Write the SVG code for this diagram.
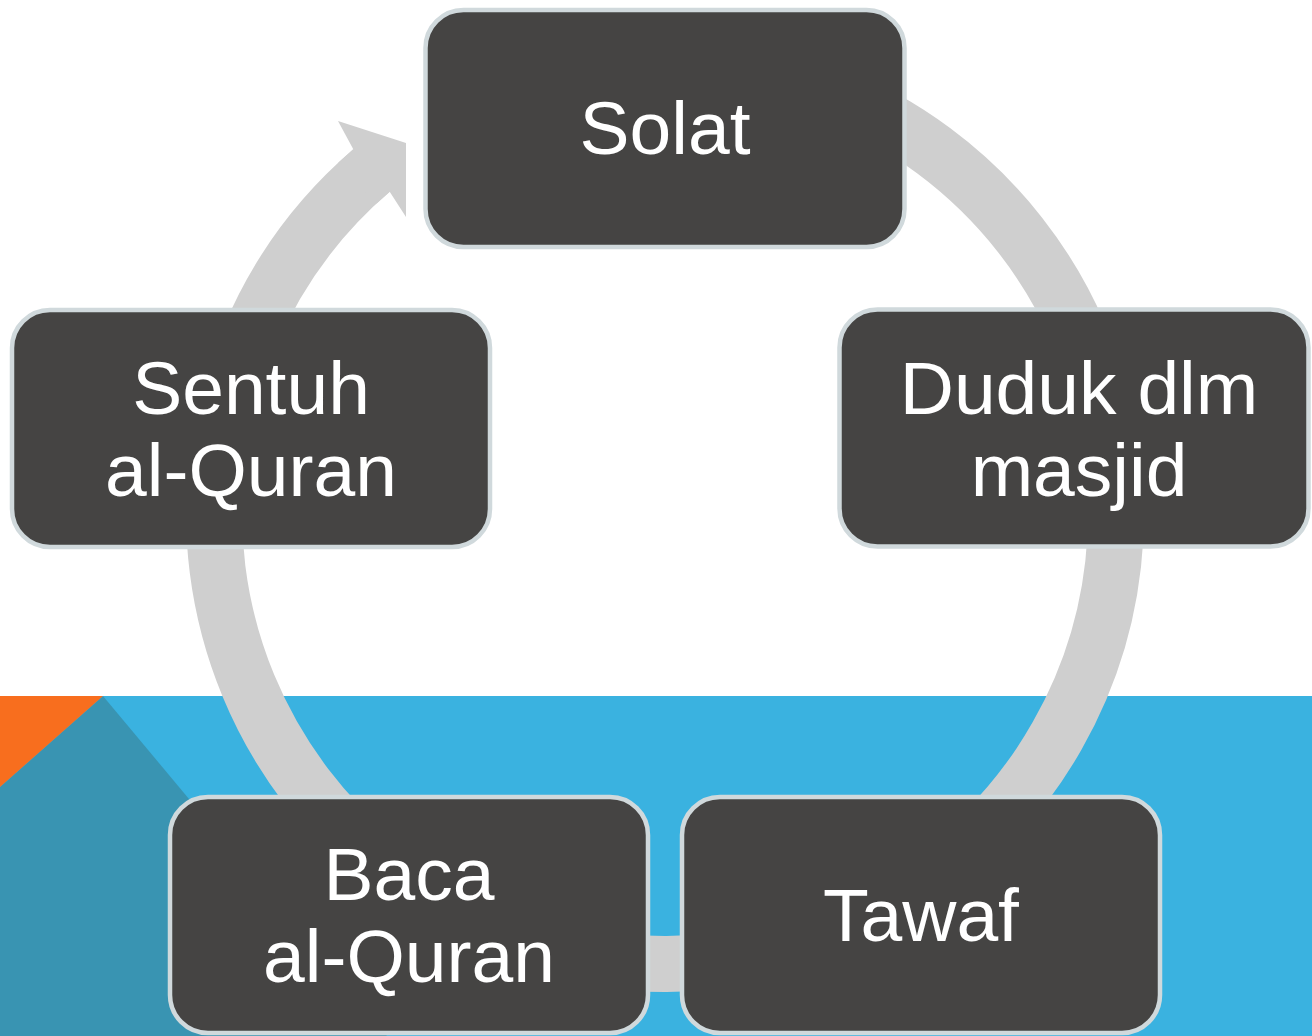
<svg xmlns="http://www.w3.org/2000/svg" width="1312" height="1036" viewBox="0 0 1312 1036">
  <style>
    .node rect { fill: #454443; stroke: #D0D9DC; stroke-width: 4.5; }
    .node text { fill: #FFFFFF; font-family: "Liberation Sans", Arial, sans-serif; font-size: 75px; text-anchor: middle; }
    .ring { fill: none; stroke: #CFCFCF; stroke-width: 56; }
    .head { fill: #CFCFCF; }
  </style>
  <rect x="0" y="0" width="1312" height="1036" fill="#FFFFFF"/>
  <g id="background">
    <rect x="0" y="696" width="1312" height="340" fill="#3AB2E0"/>
    <polygon points="0,787 103,696 387,1036 0,1036" fill="#3994B2"/>
    <polygon points="0,696 103,696 0,787" fill="#F86E1E"/>
  </g>
  <g id="connectors">
    <path class="ring" d="M 510.8 89.2 A 451 451 0 1 1 371.5 170.6"/>
    <polygon class="head" points="338,121 406,143 406,217 389.7,191.8 376.5,203.6 338.3,162.7 353.3,149.3"/>
  </g>
  <g id="node-solat" class="node">
    <rect x="425.5" y="10" width="479" height="237" rx="38"/>
    <text x="665" y="154">Solat</text>
  </g>
  <g id="node-duduk" class="node">
    <rect x="839.5" y="309.5" width="469" height="237" rx="38"/>
    <text x="1079" y="414">Duduk dlm</text>
    <text x="1079" y="496">masjid</text>
  </g>
  <g id="node-tawaf" class="node">
    <rect x="682" y="797" width="478" height="236" rx="38"/>
    <text x="921" y="941">Tawaf</text>
  </g>
  <g id="node-baca" class="node">
    <rect x="170" y="797" width="478" height="236" rx="38"/>
    <text x="409" y="900">Baca</text>
    <text x="409" y="982">al-Quran</text>
  </g>
  <g id="node-sentuh" class="node">
    <rect x="12" y="310" width="478" height="237" rx="38"/>
    <text x="251" y="414">Sentuh</text>
    <text x="251" y="496">al-Quran</text>
  </g>
</svg>
